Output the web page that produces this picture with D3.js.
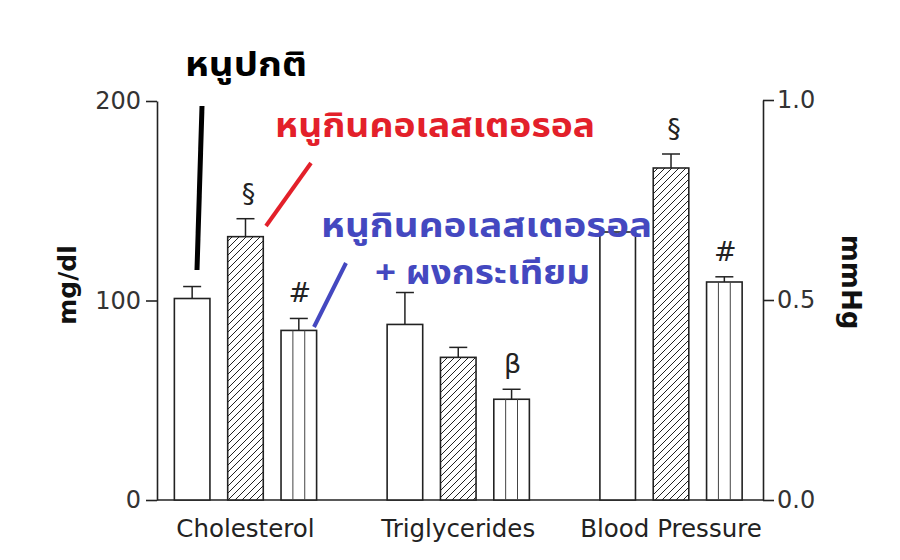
<!DOCTYPE html>
<html>
<head>
<meta charset="utf-8">
<script src="https://cdn.jsdelivr.net/npm/d3@7/dist/d3.min.js"></script>
<style>
  html, body { margin: 0; padding: 0; background: #fff; }
  svg { display: block; }
</style>
</head>
<body>
<svg id="chart" width="900" height="560"></svg>
<script>
// ---------------- DATA ----------------
const categories = ["Cholesterol", "Triglycerides", "Blood Pressure"];
const groups = ["normal", "cholesterol", "cholesterolGarlic"];
// means (Cholesterol & Triglycerides in mg/dl, Blood Pressure on right axis)
const normalMean = [101, 88, 0.67];
const cholMean = [132, 71.5, 0.83];
const garlicMean = [85, 50.5, 0.545];
// standard errors (upper whisker)
const normalSE = [6, 16, 0];
const cholSE = [9, 5, 0.035];
const garlicSE = [6, 5, 0.013];
// significance symbols
const markCategory = ["Cholesterol", "Cholesterol", "Triglycerides", "Blood Pressure", "Blood Pressure"];
const markGroup = ["cholesterol", "cholesterolGarlic", "cholesterolGarlic", "cholesterol", "cholesterolGarlic"];
const markSymbol = ["§", "#", "β", "§", "#"];
// axis ticks
const leftTicks = [0, 100, 200];
const rightTicks = [0, 0.5, 1.0];
const leftTitle = "mg/dl";
const rightTitle = "mmHg";
// annotation labels (Thai)
const labelNormal = "หนูปกติ";
const labelChol = "หนูกินคอเลสเตอรอล";
const labelGarlic1 = "หนูกินคอเลสเตอรอล";
const labelGarlic2 = "+ ผงกระเทียม";

// ---------------- BUILD ----------------
const meanBy = { normal: normalMean, cholesterol: cholMean, cholesterolGarlic: garlicMean };
const seBy = { normal: normalSE, cholesterol: cholSE, cholesterolGarlic: garlicSE };
const rows = [];
categories.forEach((c, i) => {
  groups.forEach(g => {
    rows.push({ cat: c, group: g, value: meanBy[g][i], se: seBy[g][i], right: c === "Blood Pressure" });
  });
});

const svg = d3.select("#chart");
svg.append("rect").attr("width", 900).attr("height", 560).attr("fill", "#fff");

const LAT = "'DejaVu Sans', 'Liberation Sans', Arial, sans-serif";
const THAI = "'Noto Sans Thai', 'Noto Sans Thai UI', Tahoma, Loma, 'Noto Sans', sans-serif";

const yL = d3.scaleLinear().domain([0, 200]).range([500, 101]);
const yR = d3.scaleLinear().domain([0, 1]).range([500, 100]);
const x0 = d3.scaleBand().domain(categories).range([139.1, 777.4]).padding(0);
const x1 = d3.scaleBand().domain(groups).range([-80, 80]).paddingInner(0.333).paddingOuter(0.1665);
const yOf = d => d.right ? yR : yL;
const barX = d => x0(d.cat) + x0.bandwidth() / 2 + x1(d.group);
const barCX = d => barX(d) + x1.bandwidth() / 2;

// hatch pattern
const defs = svg.append("defs");
const pat = defs.append("pattern").attr("id", "hatch").attr("patternUnits", "userSpaceOnUse")
  .attr("width", 7).attr("height", 7);
pat.append("rect").attr("width", 7).attr("height", 7).attr("fill", "#fff");
pat.append("path").attr("d", "M-1,1 l2,-2 M0,7 l7,-7 M6,8 l2,-2")
  .attr("stroke", "#222").attr("stroke-width", 1);

// baseline
svg.append("line").attr("x1", 157).attr("x2", 763).attr("y1", yL(0)).attr("y2", yL(0))
  .attr("stroke", "#222").attr("stroke-width", 1.6);

// error bars
const errG = svg.append("g");
rows.filter(d => d.se > 0).forEach(d => {
  const y = yOf(d), cx = barCX(d);
  errG.append("line").attr("x1", cx).attr("x2", cx).attr("y1", y(d.value)).attr("y2", y(d.value + d.se))
    .attr("stroke", "#222").attr("stroke-width", 1.5);
  errG.append("line").attr("x1", cx - 9).attr("x2", cx + 9).attr("y1", y(d.value + d.se)).attr("y2", y(d.value + d.se))
    .attr("stroke", "#222").attr("stroke-width", 1.5);
});

// bars
const barG = svg.append("g");
barG.selectAll("rect").data(rows).join("rect")
  .attr("x", d => barX(d))
  .attr("width", x1.bandwidth())
  .attr("y", d => yOf(d)(d.value))
  .attr("height", d => yOf(d)(0) - yOf(d)(d.value))
  .attr("fill", d => d.group === "cholesterol" ? "url(#hatch)" : "#fff")
  .attr("stroke", "#222").attr("stroke-width", 1.6);
// vertical stripes for garlic group
rows.filter(d => d.group === "cholesterolGarlic").forEach(d => {
  const y = yOf(d);
  [1 / 3, 2 / 3].forEach(f => {
    const xx = barX(d) + x1.bandwidth() * f;
    barG.append("line").attr("x1", xx).attr("x2", xx).attr("y1", y(d.value)).attr("y2", y(0))
      .attr("stroke", "#444").attr("stroke-width", 1);
  });
});

// axes
const axL = svg.append("g").attr("transform", "translate(157,0)")
  .call(d3.axisLeft(yL).tickValues(leftTicks).tickSize(11).tickSizeOuter(0).tickPadding(5));
const axR = svg.append("g").attr("transform", "translate(763,0)")
  .call(d3.axisRight(yR).tickValues(rightTicks).tickFormat(d3.format(".1f")).tickSize(11).tickSizeOuter(0).tickPadding(3));
[axL, axR].forEach(ax => {
  ax.select(".domain").attr("stroke", "#222").attr("stroke-width", 1.6);
  ax.selectAll(".tick line").attr("stroke", "#222").attr("stroke-width", 1.6);
  ax.selectAll(".tick text").attr("font-family", LAT).attr("font-size", 24).attr("fill", "#333");
});

// category labels
svg.append("g").selectAll("text").data(categories).join("text")
  .attr("x", d => x0(d) + x0.bandwidth() / 2)
  .attr("y", 537)
  .attr("text-anchor", "middle")
  .attr("font-family", LAT).attr("font-size", 24.5).attr("fill", "#222")
  .text(d => d);

// axis titles
svg.append("text").attr("transform", "translate(76,285) rotate(-90)")
  .attr("text-anchor", "middle").attr("font-family", LAT).attr("font-weight", "bold")
  .attr("font-size", 25).attr("fill", "#111").text(leftTitle);
svg.append("text").attr("transform", "translate(842,282) rotate(90)")
  .attr("text-anchor", "middle").attr("font-family", LAT).attr("font-weight", "bold")
  .attr("font-size", 26).attr("fill", "#111").text(rightTitle);

// significance marks
markSymbol.forEach((s, i) => {
  const d = rows.find(r => r.cat === markCategory[i] && r.group === markGroup[i]);
  const y = yOf(d);
  svg.append("text").attr("x", barCX(d) + (s === "§" ? 3 : 1)).attr("y", y(d.value + d.se) - 16)
    .attr("text-anchor", "middle").attr("font-family", LAT).attr("font-size", 27).attr("fill", "#222")
    .text(s);
});

// annotation lines
svg.append("line").attr("x1", 202).attr("y1", 106).attr("x2", 197).attr("y2", 270)
  .attr("stroke", "#000").attr("stroke-width", 5);
svg.append("line").attr("x1", 311).attr("y1", 163).attr("x2", 266).attr("y2", 226)
  .attr("stroke", "#e3202a").attr("stroke-width", 4);
svg.append("line").attr("x1", 346).attr("y1", 263).attr("x2", 314).attr("y2", 327)
  .attr("stroke", "#4448c0").attr("stroke-width", 4);

// annotation texts
function thai(lines, color) {
  const t = svg.append("text")
    .attr("font-family", THAI).attr("font-weight", "bold").attr("font-size", 33)
    .attr("fill", color);
  lines.forEach(l => {
    t.append("tspan").attr("x", l.x).attr("y", l.y)
      .attr("textLength", l.len).attr("lengthAdjust", "spacingAndGlyphs").text(l.txt);
  });
}
thai([{ txt: labelNormal, x: 185, y: 76, len: 122 }], "#000");
thai([{ txt: labelChol, x: 275, y: 137, len: 320 }], "#e3202a");
thai([{ txt: labelGarlic1, x: 321, y: 237, len: 331 },
      { txt: labelGarlic2, x: 375, y: 284, len: 215 }], "#4448c0");
</script>
</body>
</html>
